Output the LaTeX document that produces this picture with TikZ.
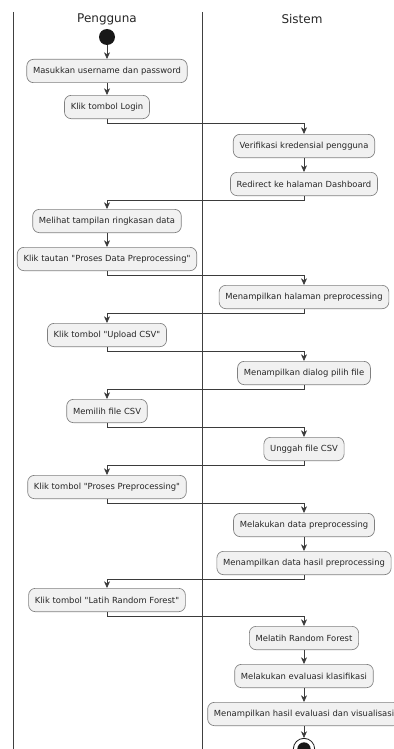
\documentclass[tikz,border=0pt]{standalone}
\usepackage{fontspec}
\newfontfamily\umlfont{DejaVu Sans}
\usetikzlibrary{arrows.meta}
\definecolor{actfill}{HTML}{F1F1F1}
\definecolor{actline}{HTML}{181818}

\tikzset{
  act/.style={draw=actline!55, fill=actfill, rounded corners=5pt, line width=0.5pt,
    font=\umlfont\fontsize{6.3}{7}\selectfont, text=black!85,
    inner xsep=4.7pt, inner ysep=0pt, minimum height=17.5pt},
  flow/.style={draw=actline!85, line width=0.5pt, -{Stealth[length=5pt,width=4.5pt,inset=1.5pt]}},
  lanetitle/.style={font=\umlfont\fontsize{9}{11}\selectfont, text=black!85},
  swim/.style={draw=black!75, line width=0.75pt}
}

\begin{document}
\begin{tikzpicture}[x=0.75pt,y=-0.75pt]
\useasboundingbox (0,0) rectangle (393,749);

% lanes
\draw[swim] (13,12) -- (13,749);
\draw[swim] (202,12) -- (202,749);
\node[lanetitle](pengguna) at (107,19) {Pengguna};
\node[lanetitle](sistem) at (302,19) {Sistem};

% start
\node[shape=circle, fill=actline, inner sep=0pt, minimum size=12pt](start) at (107,37) {};

% Pengguna / Sistem activities
\node[act](masuk) at (107,71) {Masukkan username dan password};
\node[act](login) at (107,107) {Klik tombol Login};
\node[act](verif) at (304,146) {Verifikasi kredensial pengguna};
\node[act](redir) at (304,184) {Redirect ke halaman Dashboard};
\node[act](lihat) at (107,221) {Melihat tampilan ringkasan data};
\node[act](tautan) at (107,259) {Klik tautan "Proses Data Preprocessing"};
\node[act](halprep) at (304,297) {Menampilkan halaman preprocessing};
\node[act](upload) at (107,335) {Klik tombol "Upload CSV"};
\node[act](dialog) at (304,373) {Menampilkan dialog pilih file};
\node[act](pilih) at (107,411) {Memilih file CSV};
\node[act](unggah) at (304,449) {Unggah file CSV};
\node[act](proses) at (107,487) {Klik tombol "Proses Preprocessing"};
\node[act](prep) at (304,525) {Melakukan data preprocessing};
\node[act](hasilprep) at (304,563) {Menampilkan data hasil preprocessing};
\node[act](latih) at (107,600) {Klik tombol "Latih Random Forest"};
\node[act](rf) at (304,638) {Melatih Random Forest};
\node[act](eval) at (304,676) {Melakukan evaluasi klasifikasi};
\node[act](visual) at (304,714) {Menampilkan hasil evaluasi dan visualisasi};

% stop
\node[shape=circle, draw=actline, line width=0.6pt, inner sep=0pt, minimum size=16pt](stop) at (304,749) {};
\node[shape=circle, fill=actline, inner sep=0pt, minimum size=10pt](stopdot) at (stop) {};

% flows
\draw[flow] (start) -- (masuk);
\draw[flow] (masuk) -- (login);
\draw[flow] (login.south) -- ++(0,4) -| (verif.north);
\draw[flow] (verif) -- (redir);
\draw[flow] (redir.south) -- ++(0,4) -| (lihat.north);
\draw[flow] (lihat) -- (tautan);
\draw[flow] (tautan.south) -- ++(0,4) -| (halprep.north);
\draw[flow] (halprep.south) -- ++(0,4) -| (upload.north);
\draw[flow] (upload.south) -- ++(0,4) -| (dialog.north);
\draw[flow] (dialog.south) -- ++(0,4) -| (pilih.north);
\draw[flow] (pilih.south) -- ++(0,4) -| (unggah.north);
\draw[flow] (unggah.south) -- ++(0,4) -| (proses.north);
\draw[flow] (proses.south) -- ++(0,4) -| (prep.north);
\draw[flow] (prep) -- (hasilprep);
\draw[flow] (hasilprep.south) -- ++(0,4) -| (latih.north);
\draw[flow] (latih.south) -- ++(0,4) -| (rf.north);
\draw[flow] (rf) -- (eval);
\draw[flow] (eval) -- (visual);
\draw[flow] (visual) -- (stop);
\end{tikzpicture}
\end{document}
